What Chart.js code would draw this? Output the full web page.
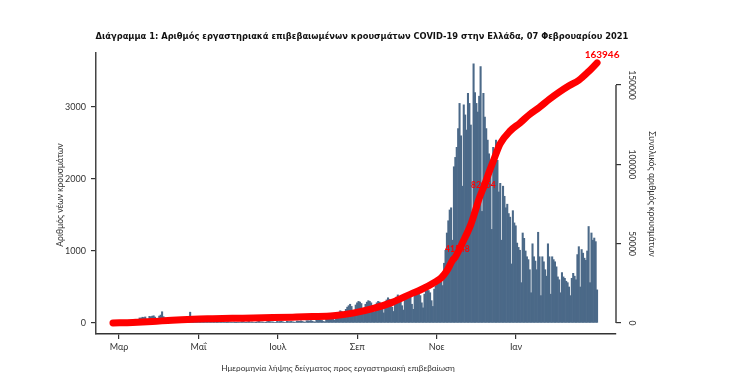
<!DOCTYPE html>
<html lang="el">
<head>
<meta charset="utf-8">
<title>Διάγραμμα 1</title>
<script src="https://cdn.jsdelivr.net/npm/chart.js@4.4.1/dist/chart.umd.min.js"></script>
<style>
  html, body { margin: 0; padding: 0; background: #fff; }
  canvas { display: block; }
</style>
</head>
<body>
<canvas id="plot1" width="741" height="390"></canvas>
<script>
const titulo = 'Διάγραμμα 1: Αριθμός εργαστηριακά επιβεβαιωμένων κρουσμάτων COVID-19 στην Ελλάδα, 07 Φεβρουαρίου 2021'
const tituloX = 'Ημερομηνία λήψης δείγματος προς εργαστηριακή επιβεβαίωση'
const tituloY = 'Αριθμός νέων κρουσμάτων'
const tituloY2 = 'Συνολικός αριθμός κρουσμάτων'

// x axis works in days since 26 Feb 2020
const etiquetasMes = ['Μαρ', 'Μαΐ', 'Ιουλ', 'Σεπ', 'Νοε', 'Ιαν']
const posicionMes = [4.3, 60.9, 117.5, 174.1, 230.7, 287.3]
const ticksIzq = [0, 1000, 2000, 3000]
const ticksDer = [0, 50000, 100000, 150000]

// new cases per sample date, one value per day
const casosDiarios = [
    1, 3, 2, 1, 2,
    4, 8, 14, 22, 26, 12, 15,
    30, 34, 40, 45, 52, 38, 30,
    70, 68, 80, 76, 84, 55, 44,
    92, 86, 95, 100, 82, 60, 48,
    96, 110, 156, 88, 70, 50, 40,
    72, 64, 58, 52, 44, 30, 26,
    48, 40, 36, 42, 30, 22, 18,
    62, 150, 40, 32, 24, 16, 12,
    28, 22, 20, 18, 14, 10, 8,
    20, 16, 14, 22, 12, 8, 6,
    18, 15, 12, 16, 10, 8, 5,
    16, 14, 12, 10, 14, 6, 4,
    12, 10, 14, 18, 22, 8, 6,
    16, 20, 12, 14, 10, 8, 5,
    18, 22, 16, 14, 12, 8, 6,
    20, 24, 18, 16, 14, 10, 7,
    22, 18, 20, 26, 16, 10, 8,
    24, 20, 18, 22, 16, 12, 9,
    28, 26, 24, 30, 22, 14, 10,
    32, 30, 28, 34, 26, 18, 12,
    38, 36, 42, 40, 34, 22, 16,
    55, 62, 70, 78, 74, 50, 38,
    110, 130, 150, 170, 160, 110, 80,
    190, 220, 240, 260, 230, 170, 120,
    250, 280, 300, 290, 270, 190, 140,
    260, 290, 310, 300, 280, 200, 150,
    250, 280, 300, 290, 260, 190, 140,
    290, 320, 350, 330, 310, 220, 160,
    320, 360, 390, 370, 340, 240, 180,
    350, 380, 410, 400, 360, 260, 190,
    370, 400, 430, 410, 380, 280, 210,
    400, 440, 470, 450, 420, 310, 230,
    470, 510, 550, 600, 640, 620, 520,
    830, 1010, 1250, 1420, 1570, 1600, 1150,
    2170, 2300, 2440, 2700, 3050, 2600, 1900,
    3030, 2890, 2680, 3190, 3050, 2750, 1460,
    3600, 3200, 3050, 2930, 3150, 3560, 1550,
    3190, 2860, 2700, 2540, 2350, 2100, 1300,
    2440, 2350, 2540, 2260, 1820, 1940, 1150,
    1900, 1760, 1600, 1650, 1520, 1470, 820,
    1560, 1390, 1350, 1110, 1050, 1010, 560,
    1250, 1176, 1000, 920, 880, 740, 420,
    1100, 920, 860, 740, 1260, 920, 380,
    920, 850, 740, 650, 1100, 920, 400,
    920, 880, 850, 780, 640, 600, 420,
    700, 640, 620, 580, 560, 500, 380,
    620, 690, 650, 600, 950, 1060, 500,
    1020, 970, 900, 870, 1000, 1340, 560,
    1250, 1150, 1180, 1130, 460
]

// cumulative total at some days
const diasAcumulado = [0, 14, 28, 42, 57, 71, 85, 100, 114, 128, 142, 157, 171, 185, 199, 214, 219, 230, 234, 238,
    242, 244, 249, 255, 258, 261, 265, 268, 271, 276, 283, 290, 297, 304, 311, 318, 325, 332, 339, 345]
const casosAcumulados = [0, 300, 900, 1800, 2400, 2700, 2950, 3150, 3400, 3700, 4050, 4600, 6200, 9000, 13000, 19000, 20800, 26000, 28500, 33000,
    39500, 41600, 50400, 62000, 70000, 78500, 87500, 95000, 102000, 113000, 121000, 126000, 131500, 136000, 141000, 145500, 149500, 153000, 158500, 163946]

// red numbers written on the curve, at the day the curve reaches them
const diasRojos = [244, 262.6, 345]
const valoresRojos = [41548, 82054, 163946]


let puntosDiarios = casosDiarios.map((v, i) => ({ x: i, y: v }))
let puntosAcumulados = diasAcumulado.map((d, i) => ({ x: d, y: casosAcumulados[i] }))

const fuenteTicks = 'Lato, "Open Sans", sans-serif'
const fuenteTitulo = '"Liberation Sans Narrow", "DejaVu Sans Condensed", "Liberation Sans", sans-serif'

/* shrink a font until the text fits the width seen in the picture */
let ajustarFuente = (c, texto, ancho, peso, familia) => {
    let size = 14
    c.font = peso + ' ' + size + 'px ' + familia
    while (c.measureText(texto).width > ancho && size > 5) {
        size -= 0.25
        c.font = peso + ' ' + size + 'px ' + familia
    }
    return c.font
}

const textosPlugin = {
    id: 'textos',
    afterDatasetsDraw(chart) {
        const c = chart.ctx
        const x = chart.scales.x
        const y2 = chart.scales.y2
        c.save()
        c.fillStyle = '#ff0000'
        c.textAlign = 'center'
        c.textBaseline = 'middle'
        for (let i = 0; i < diasRojos.length; i++) {
            let px = x.getPixelForValue(diasRojos[i])
            let py = y2.getPixelForValue(valoresRojos[i])
            let ultimo = i == diasRojos.length - 1
            c.font = 'bold ' + (ultimo ? 10 : 8.5) + 'px ' + fuenteTicks
            c.fillText(String(valoresRojos[i]), px + (ultimo ? 5 : 2), py - 8)
        }
        c.restore()
    },
    afterDraw(chart) {
        const c = chart.ctx
        const area = chart.chartArea
        const y2 = chart.scales.y2
        c.save()
        c.fillStyle = '#111'
        c.textAlign = 'center'
        c.textBaseline = 'middle'

        /* main title */
        c.font = ajustarFuente(c, titulo, 540, 'bold', fuenteTitulo)
        c.fillText(titulo, 362, 37)

        /* x title */
        c.fillStyle = '#333'
        c.font = ajustarFuente(c, tituloX, 237, 'normal', fuenteTicks)
        c.fillText(tituloX, 338, 368)

        /* left title, bottom to top */
        c.save()
        c.translate(60, 195)
        c.rotate(-Math.PI / 2)
        c.font = ajustarFuente(c, tituloY, 104, 'normal', fuenteTicks)
        c.fillText(tituloY, 0, 0)
        c.restore()

        /* right title, top to bottom */
        c.save()
        c.translate(652, 194)
        c.rotate(Math.PI / 2)
        c.font = ajustarFuente(c, tituloY2, 128, 'normal', fuenteTicks)
        c.fillText(tituloY2, 0, 0)
        c.restore()

        /* right axis line only covers the tick range */
        c.strokeStyle = '#444'
        c.lineWidth = 1.5
        c.beginPath()
        c.moveTo(area.right, y2.getPixelForValue(0))
        c.lineTo(area.right, y2.getPixelForValue(150000))
        c.stroke()

        /* right tick labels are turned */
        c.font = '8.5px ' + fuenteTicks
        for (let v of ticksDer) {
            c.save()
            c.translate(632, y2.getPixelForValue(v))
            c.rotate(Math.PI / 2)
            c.fillText(String(v), 0, 0)
            c.restore()
        }
        c.restore()
    }
}

let ctx = document.getElementById('plot1').getContext('2d')

let grafica1 = new Chart(ctx, {
    type: 'bar',
    data: {
        datasets: [{
            type: 'line',
            label: 'Συνολικά κρούσματα',
            data: puntosAcumulados,
            yAxisID: 'y2',
            borderColor: '#ff0000',
            borderWidth: 7,
            pointRadius: 0,
            cubicInterpolationMode: 'monotone',
            borderCapStyle: 'round',
            borderJoinStyle: 'round',
            order: 0
        }, {
            type: 'bar',
            label: 'Νέα κρούσματα',
            data: puntosDiarios,
            yAxisID: 'y',
            backgroundColor: '#4b6988',
            barPercentage: 1,
            categoryPercentage: 1,
            order: 1
        }]
    },
    options: {
        responsive: false,
        animation: false,
        devicePixelRatio: 1,
        layout: { padding: { top: 53, left: 0, right: 0, bottom: 0 } },
        plugins: {
            legend: { display: false },
            tooltip: { enabled: false }
        },
        scales: {
            x: {
                type: 'linear',
                offset: false,
                min: -12.1,
                max: 358.5,
                afterBuildTicks: (s) => { s.ticks = posicionMes.map(v => ({ value: v })) },
                afterFit: (s) => { s.height = 56 },
                ticks: {
                    autoSkip: false,
                    maxRotation: 0,
                    padding: 3,
                    color: '#333',
                    font: { family: fuenteTicks, size: 9 },
                    callback: (v, i) => etiquetasMes[i]
                },
                grid: { offset: false, drawOnChartArea: false, tickLength: 5, color: '#333', lineWidth: 1.2 },
                border: { color: '#333', width: 1.5 }
            },
            y: {
                position: 'left',
                min: -153,
                max: 3750,
                afterBuildTicks: (s) => { s.ticks = ticksIzq.map(v => ({ value: v })) },
                afterFit: (s) => { s.width = 96 },
                ticks: {
                    padding: 5,
                    color: '#333',
                    font: { family: fuenteTicks, size: 9 },
                    callback: (v) => String(v)
                },
                grid: { drawOnChartArea: false, tickLength: 5, color: '#333', lineWidth: 1.2 },
                border: { color: '#444', width: 1.5 }
            },
            y2: {
                position: 'right',
                min: -6933,
                max: 170168,
                afterBuildTicks: (s) => { s.ticks = ticksDer.map(v => ({ value: v })) },
                afterFit: (s) => { s.width = 125 },
                ticks: { display: false },
                grid: { drawOnChartArea: false, tickLength: 5, color: '#333', lineWidth: 1.2 },
                border: { display: false }
            }
        }
    },
    plugins: [textosPlugin]
})
</script>
</body>
</html>
